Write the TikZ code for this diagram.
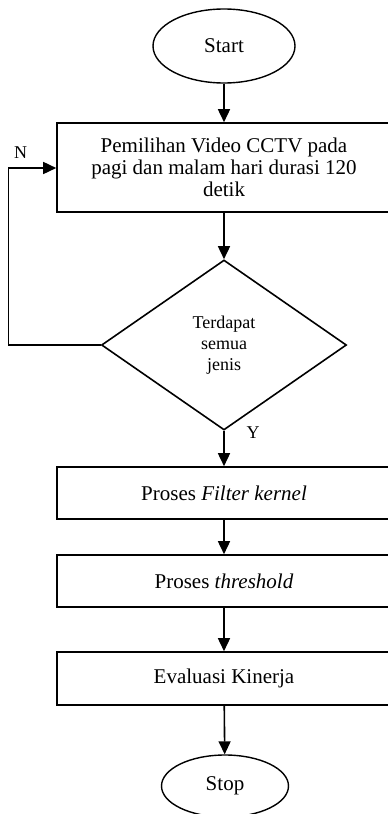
\documentclass[tikz,border=0pt]{standalone}
\usepackage{fontspec}
\setmainfont{Liberation Serif}
\usetikzlibrary{shapes.geometric,arrows.meta}

\tikzset{
	proses/.style={draw, line width=1.6pt, rectangle, minimum width=334pt, inner sep=0pt, align=center, font=\fontsize{21}{21.7}\selectfont},
	terminal/.style={draw, line width=1.4pt, ellipse, inner sep=0pt, font=\fontsize{21}{21.7}\selectfont},
	keputusan/.style={draw, line width=1.6pt, diamond, inner sep=0pt, align=center, font=\fontsize{18}{21}\selectfont},
	panah/.style={line width=1.6pt, -{Triangle[width=12pt,length=13pt]}}
}

\begin{document}
\begin{tikzpicture}[x=1pt,y=-1pt]
		\useasboundingbox (0,0) rectangle (388,814);
		
		\node[terminal, minimum width=142pt, minimum height=74pt] (start) at (224,46) {Start};
		\node[proses, minimum height=89pt] (pilih) at (224,167.5) {Pemilihan Video CCTV pada\\pagi dan malam hari durasi 120\\detik};
		\node[keputusan, minimum width=245pt, minimum height=170pt] (cek) at (224,345) {Terdapat\\semua\\jenis};
		\node[proses, minimum height=52pt] (filter) at (224,493) {Proses \textit{Filter kernel}};
		\node[proses, minimum height=52pt] (thres) at (224,581) {Proses \textit{threshold}};
		\node[proses, minimum height=53pt] (eval) at (224,678.5) {Evaluasi Kinerja};
		\node[terminal, minimum width=127pt, minimum height=62pt] (stop) at (225,786) {Stop};
		
		% jalur utama
		\draw[panah] (start) -- (pilih);
		\draw[panah] (pilih) -- (cek);
		\draw[panah] (cek) -- (filter);
		\draw[panah] (filter) -- (thres);
		\draw[panah] (thres) -- (eval);
		\draw[panah] (eval) -- (stop);
		
		% kembali jika tidak
		\draw[panah] (cek.west) -| (8.5,168) -- (pilih.west |- 0,168);
		
		\node[font=\fontsize{18}{21}\selectfont] (labelN) at (20.5,153) {N};
		\node[font=\fontsize{18}{21}\selectfont] (labelY) at (253,433) {Y};
		
	\end{tikzpicture}
\end{document}
